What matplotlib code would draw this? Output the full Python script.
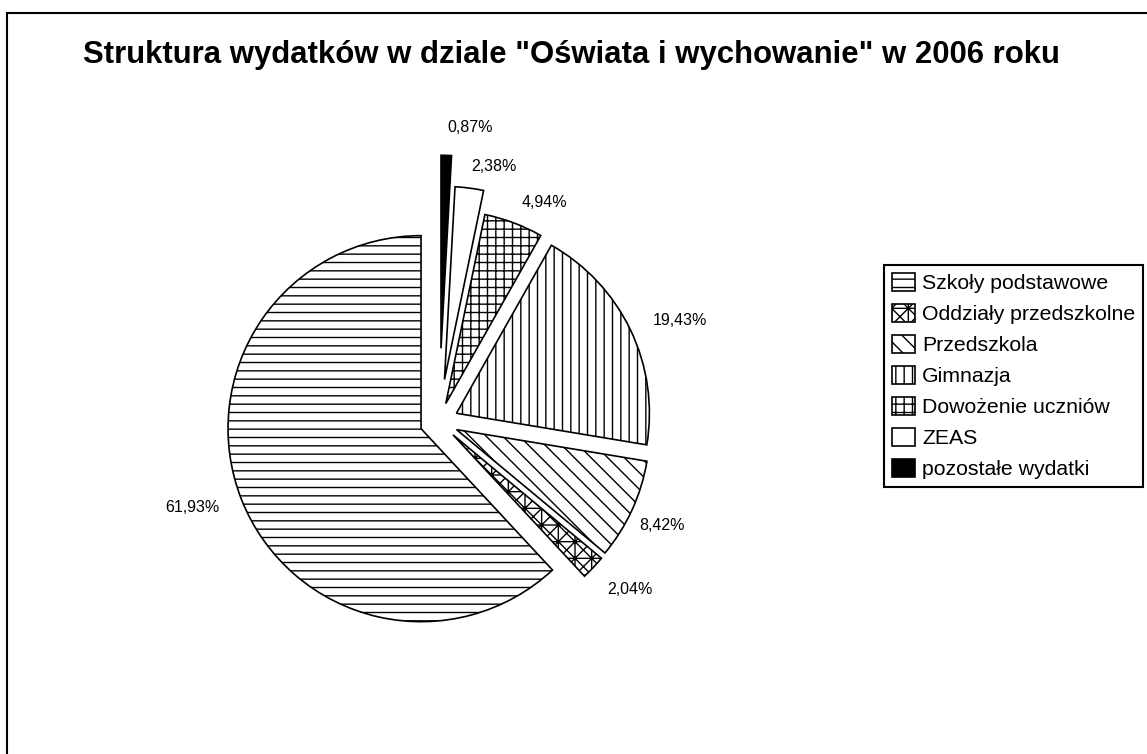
import matplotlib
matplotlib.use("Agg")
import matplotlib.pyplot as plt
from matplotlib.patches import Rectangle
import numpy as np

# ---------------- data ----------------
title = 'Struktura wydatków w dziale "Oświata i wychowanie" w 2006 roku'
categories = ['Szkoły podstawowe', 'Oddziały przedszkolne', 'Przedszkola',
              'Gimnazja', 'Dowożenie uczniów', 'ZEAS', 'pozostałe wydatki']
shares = [61.93, 2.04, 8.42, 19.43, 4.94, 2.38, 0.87]
value_labels = ['61,93%', '2,04%', '8,42%', '19,43%', '4,94%', '2,38%', '0,87%']

# ---------------- style / layout ----------------
explode = [0.10, 0.10, 0.10, 0.10, 0.10, 0.22, 0.38]
hatches = ['--', 'xx+', '\\\\', '||', '++', '', '']
facecolors = ['white', 'white', 'white', 'white', 'white', 'white', 'black']
label_dist = [1.356, 1.32, 1.276, 1.355, 1.26, 1.35, 1.53]
label_dtheta = [-2.2, 2.1, -0.5, -2.7, -5.0, -4.8, -4.4]

plt.rcParams['hatch.linewidth'] = 1.0
plt.rcParams['font.family'] = ['Liberation Sans', 'DejaVu Sans']

W, H = 1147, 754
fig = plt.figure(figsize=(W / 100, H / 100), dpi=100)
fig.patch.set_facecolor('white')

cx, cy, R = 439, H - 421.6, 193.0
half = 330
ax = fig.add_axes([(cx - half) / W, (cy - half) / H, 2 * half / W, 2 * half / H])
wedges, _ = ax.pie(shares, explode=explode, startangle=90, counterclock=True,
                   colors=facecolors,
                   wedgeprops=dict(edgecolor='black', linewidth=1.2))
for w, h in zip(wedges, hatches):
    w.set_hatch(h)
lim = half / R
ax.set_xlim(-lim, lim)
ax.set_ylim(-lim, lim)
ax.set_aspect('equal')
ax.axis('off')

for w, txt, d, dt in zip(wedges, value_labels, label_dist, label_dtheta):
    mid = np.deg2rad((w.theta1 + w.theta2) / 2 + dt)
    ax.text(d * np.cos(mid), d * np.sin(mid), txt, ha='center', va='center',
            fontsize=11.5, color='black')

leg = fig.legend(wedges, categories, loc='upper left',
                 bbox_to_anchor=(884 / W, 1 - 265 / H),
                 bbox_transform=fig.transFigure, borderaxespad=0,
                 fontsize=15.3, frameon=True, fancybox=False, shadow=False,
                 handlelength=1.08, handleheight=0.94, handletextpad=0.36,
                 labelspacing=0.5, borderpad=0.36)
leg.get_frame().set_edgecolor('black')
leg.get_frame().set_linewidth(1.5)
leg.get_frame().set_alpha(1)

fig.text(83 / W, 1 - 63 / H, title, fontweight='bold', fontsize=22.4,
         ha='left', va='baseline')

fig.add_artist(Rectangle((7 / W, -0.1), 1.2, 1 - 13 / H + 0.1,
                         transform=fig.transFigure, fill=False,
                         edgecolor='black', linewidth=1.5))

fig.savefig('out.png', dpi=100)
